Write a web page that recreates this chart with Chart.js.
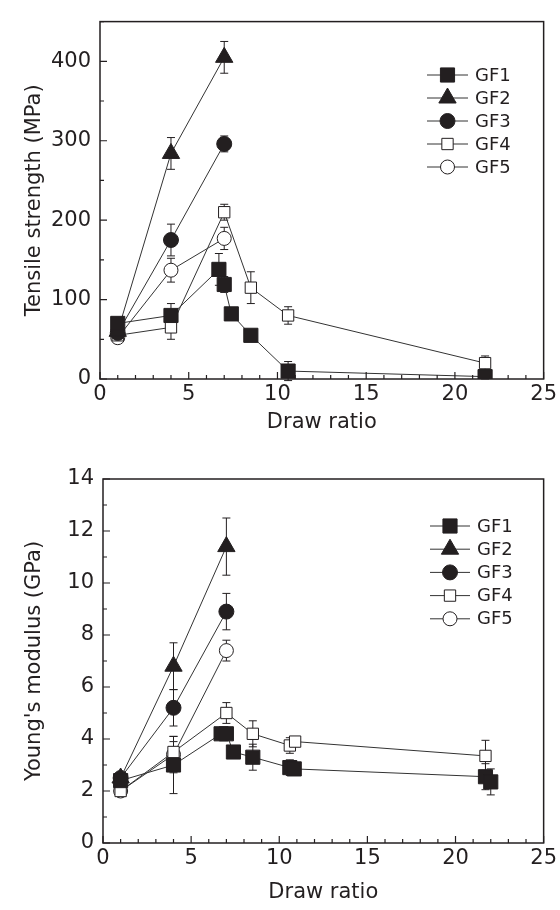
<!DOCTYPE html>
<html>
<head>
<meta charset="utf-8">
<script src="https://cdn.jsdelivr.net/npm/chart.js@4.4.1/dist/chart.umd.min.js"></script>
<style>
  html, body { margin: 0; padding: 0; background: #fff; }
  .box { position: absolute; left: 0; width: 560px; height: 455px; }
  #box-ts { top: 0; }
  #box-ym { top: 455px; }
</style>
</head>
<body>
<div class="box" id="box-ts"><canvas id="chart-ts"></canvas></div>
<div class="box" id="box-ym"><canvas id="chart-ym"></canvas></div>
<script>
const SERIES = ["GF1", "GF2", "GF3", "GF4", "GF5"];

// tensile strength (MPa) vs draw ratio
const tsX1 = [1, 4, 6.7, 7, 7.4, 8.5, 10.6, 21.7];
const tsY1 = [70, 80, 138, 119, 82, 55, 10, 3];
const tsE1 = [6, 15, 20, 10, 8, 7, 12, 3];
const tsX2 = [1, 4, 7];
const tsY2 = [60, 284, 405];
const tsE2 = [5, 20, 20];
const tsX3 = [1, 4, 7];
const tsY3 = [58, 175, 296];
const tsE3 = [5, 20, 10];
const tsX4 = [1, 4, 7, 8.5, 10.6, 21.7];
const tsY4 = [55, 65, 210, 115, 80, 20];
const tsE4 = [8, 15, 10, 20, 11, 9];
const tsX5 = [1, 4, 7];
const tsY5 = [52, 137, 177];
const tsE5 = [5, 15, 14];

// young's modulus (GPa) vs draw ratio
const ymX1 = [1, 4, 6.7, 7, 7.4, 8.5, 10.6, 10.85, 21.7, 22];
const ymY1 = [2.4, 3.0, 4.2, 4.2, 3.5, 3.3, 2.9, 2.85, 2.55, 2.35];
const ymE1 = [0.1, 1.1, 0, 0, 0.1, 0.5, 0.3, 0.2, 0.5, 0.5];
const ymX2 = [1, 4, 7];
const ymY2 = [2.5, 6.8, 11.4];
const ymE2 = [0.1, 0.9, 1.1];
const ymX3 = [1, 4, 7];
const ymY3 = [2.5, 5.2, 8.9];
const ymE3 = [0.1, 0.7, 0.7];
const ymX4 = [1, 4, 7, 8.5, 10.6, 10.9, 21.7];
const ymY4 = [2.0, 3.5, 5.0, 4.2, 3.75, 3.9, 3.35];
const ymE4 = [0.1, 0.4, 0.4, 0.5, 0.3, 0.1, 0.6];
const ymX5 = [1, 4, 7];
const ymY5 = [2.0, 3.4, 7.4];
const ymE5 = [0.1, 0.7, 0.4];

const X_TICKS  = [0, 5, 10, 15, 20, 25];
const TS_TICKS = [0, 100, 200, 300, 400];
const YM_TICKS = [0, 2, 4, 6, 8, 10, 12, 14];

const INK  = "#231f20";
const FONT = "'DejaVu Sans', 'Liberation Sans', Arial, sans-serif";

const MARKERS = {
  GF1: { style: "rect",     radius: 10,  fill: INK },
  GF2: { style: "triangle", radius: 10,  fill: INK },
  GF3: { style: "circle",   radius: 7.5, fill: INK },
  GF4: { style: "rect",     radius: 8,   fill: "#fff" },
  GF5: { style: "circle",   radius: 7,   fill: "#fff" },
};

function pts(xs, ys) {
  return xs.map((x, i) => ({ x, y: ys[i] }));
}

function makeDataset(name, xs, ys, errs) {
  const m = MARKERS[name];
  return {
    label: name,
    data: pts(xs, ys),
    errors: errs,
    borderColor: "#333",
    borderWidth: 1,
    tension: 0,
    fill: false,
    pointStyle: m.style,
    pointRadius: m.radius,
    pointBackgroundColor: m.fill,
    pointBorderColor: INK,
    pointBorderWidth: 1,
  };
}

// error bars, drawn under the markers
const errorBars = {
  id: "errorBars",
  beforeDatasetsDraw(chart) {
    const ctx = chart.ctx;
    const ys  = chart.scales.y;
    ctx.save();
    ctx.strokeStyle = INK;
    ctx.lineWidth = 1;
    chart.data.datasets.forEach((ds, i) => {
      const meta = chart.getDatasetMeta(i);
      ds.data.forEach((p, j) => {
        const e = ds.errors[j];
        if (!e) return;
        const px = meta.data[j].x;
        const y0 = ys.getPixelForValue(p.y - e);
        const y1 = ys.getPixelForValue(p.y + e);
        ctx.beginPath();
        ctx.moveTo(px, y0); ctx.lineTo(px, y1);
        ctx.moveTo(px - 4, y0); ctx.lineTo(px + 4, y0);
        ctx.moveTo(px - 4, y1); ctx.lineTo(px + 4, y1);
        ctx.stroke();
      });
    });
    ctx.restore();
  },
};

// box frame with inward ticks
const frameTicks = {
  id: "frameTicks",
  afterDatasetsDraw(chart, args, opts) {
    const { ctx, chartArea: a } = chart;
    const xs = chart.scales.x, ys = chart.scales.y;
    ctx.save();
    ctx.strokeStyle = INK;
    ctx.lineWidth = 1.5;
    ctx.strokeRect(a.left, a.top, a.right - a.left, a.bottom - a.top);
    ctx.lineWidth = 1.2;
    ctx.beginPath();
    for (let v = xs.min; v <= xs.max + 1e-9; v += opts.xMinor) {
      const px = xs.getPixelForValue(v);
      const len = Math.abs(v % opts.xMajor) < 1e-6 ? 7 : 4;
      ctx.moveTo(px, a.bottom); ctx.lineTo(px, a.bottom - len);
    }
    for (let v = ys.min; v <= ys.max + 1e-9; v += opts.yMinor) {
      const py = ys.getPixelForValue(v);
      const len = Math.abs(v % opts.yMajor) < 1e-6 ? 7 : 4;
      ctx.moveTo(a.left, py); ctx.lineTo(a.left + len, py);
    }
    ctx.stroke();
    ctx.restore();
  },
};

// legend inside the plot: line through marker, then the name
const gfLegend = {
  id: "gfLegend",
  afterDraw(chart, args, opts) {
    const ctx = chart.ctx;
    ctx.save();
    ctx.font = `18px ${FONT}`;
    ctx.textBaseline = "middle";
    ctx.textAlign = "left";
    chart.data.datasets.forEach((ds, i) => {
      const y  = opts.y + i * opts.step;
      const m  = MARKERS[ds.label];
      const cx = (opts.x0 + opts.x1) / 2;
      ctx.strokeStyle = "#333";
      ctx.lineWidth = 1;
      ctx.beginPath();
      ctx.moveTo(opts.x0, y); ctx.lineTo(opts.x1, y);
      ctx.stroke();
      ctx.fillStyle = m.fill;
      ctx.strokeStyle = INK;
      Chart.helpers.drawPoint(ctx, { pointStyle: m.style, radius: m.radius, rotation: 0, borderWidth: 1 }, cx, y);
      ctx.fillStyle = INK;
      ctx.fillText(ds.label, opts.x1 + 7, y + 1);
    });
    ctx.restore();
  },
};

function makeChart(id, cfg) {
  return new Chart(document.getElementById(id), {
    type: "line",
    data: { datasets: cfg.datasets },
    plugins: [errorBars, frameTicks, gfLegend],
    options: {
      responsive: true,
      maintainAspectRatio: false,
      animation: false,
      layout: { padding: { top: cfg.top, right: cfg.right, left: 0, bottom: 0 } },
      plugins: {
        legend: { display: false },
        tooltip: { enabled: false },
        frameTicks: { xMinor: 1, xMajor: 5, yMinor: cfg.yMinor, yMajor: cfg.yMajor },
        gfLegend: cfg.legend,
      },
      scales: {
        x: {
          type: "linear",
          min: 0, max: 25,
          afterFit: s => { s.height = cfg.xHeight; },
          afterBuildTicks: s => { s.ticks = X_TICKS.map(v => ({ value: v })); },
          grid: { display: false, drawTicks: false },
          border: { display: false },
          ticks: { color: INK, font: { family: FONT, size: 21 }, padding: 3, maxRotation: 0 },
          title: {
            display: true, text: "Draw ratio", color: INK,
            font: { family: FONT, size: 21 }, padding: { top: 0, bottom: cfg.xTitlePad },
          },
        },
        y: {
          type: "linear",
          min: 0, max: cfg.yMax,
          afterFit: s => { s.width = cfg.yWidth; },
          afterBuildTicks: s => { s.ticks = cfg.yTicks.map(v => ({ value: v })); },
          grid: { display: false, drawTicks: false },
          border: { display: false },
          ticks: { color: INK, font: { family: FONT, size: 21 }, padding: 9 },
          title: {
            display: true, text: cfg.yTitle, color: INK,
            font: { family: FONT, size: 21 }, padding: { top: 22, bottom: 0 },
          },
        },
      },
    },
  });
}

makeChart("chart-ts", {
  datasets: [
    makeDataset("GF1", tsX1, tsY1, tsE1),
    makeDataset("GF2", tsX2, tsY2, tsE2),
    makeDataset("GF3", tsX3, tsY3, tsE3),
    makeDataset("GF4", tsX4, tsY4, tsE4),
    makeDataset("GF5", tsX5, tsY5, tsE5),
  ],
  top: 14, right: 15, xHeight: 76, yWidth: 100, xTitlePad: 20,
  yMax: 450, yTicks: TS_TICKS, yMinor: 50, yMajor: 100,
  yTitle: "Tensile strength (MPa)",
  legend: { x0: 427, x1: 468, y: 75, step: 23 },
});

makeChart("chart-ym", {
  datasets: [
    makeDataset("GF1", ymX1, ymY1, ymE1),
    makeDataset("GF2", ymX2, ymY2, ymE2),
    makeDataset("GF3", ymX3, ymY3, ymE3),
    makeDataset("GF4", ymX4, ymY4, ymE4),
    makeDataset("GF5", ymX5, ymY5, ymE5),
  ],
  top: 24, right: 12, xHeight: 67, yWidth: 103, xTitlePad: 5,
  yMax: 14, yTicks: YM_TICKS, yMinor: 1, yMajor: 2,
  yTitle: "Young's modulus (GPa)",
  legend: { x0: 430, x1: 470, y: 71, step: 23.2 },
});
</script>
</body>
</html>
